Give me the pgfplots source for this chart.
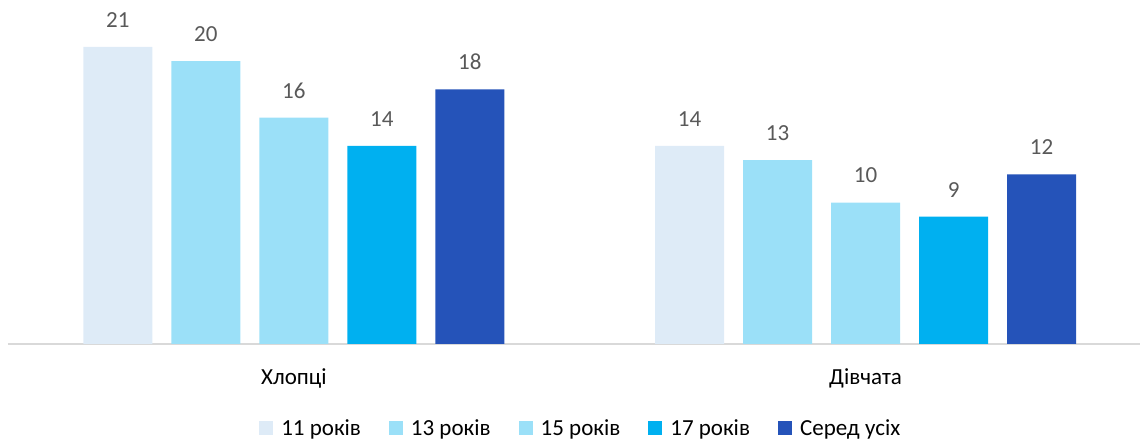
\documentclass[border=0pt]{standalone}
\usepackage{pgfplots}
\pgfplotsset{compat=1.18}
\usepackage{fontspec}
\setmainfont{Carlito}
\definecolor{c1}{HTML}{DEEBF7}
\definecolor{c2}{HTML}{9BE0F8}
\definecolor{c3}{HTML}{9BE0F8}
\definecolor{c4}{HTML}{00B0F0}
\definecolor{c5}{HTML}{2553B9}
\definecolor{axisgray}{HTML}{D9D9D9}
\definecolor{labelgray}{HTML}{595959}
\begin{document}
\begin{tikzpicture}
\useasboundingbox (0,0) rectangle (1140pt,439pt);
\begin{axis}[
  at={(8pt,95pt)}, anchor=south west,
  width=1132pt, height=396pt, scale only axis,
  xmin=-0.5, xmax=1.48, ymin=0, ymax=28,
  ybar=19pt, bar width=69pt,
  axis x line*=bottom, axis y line=none,
  x axis line style={draw=axisgray, line width=1.5pt, -},
  xtick={0,1}, xticklabels={Хлопці, Дівчата},
  xtick style={draw=none}, major tick length=0pt,
  xticklabel style={font=\fontsize{23}{28}\selectfont, text=black, yshift=-21pt},
  /pgf/number format/assume math mode=true,
  nodes near coords,
  every node near coord/.append style={font=\fontsize{23}{28}\selectfont, text=labelgray, yshift=16pt},
  legend style={at={(0.506,-0.212)}, anchor=center, draw=none, legend columns=5,
    font=\fontsize{23}{28}\selectfont,
    /tikz/every odd column/.append style={column sep=6pt},
    /tikz/every even column/.append style={column sep=26pt}},
  legend image code/.code={\fill[#1] (0pt,-7pt) rectangle (14pt,7pt);},
]
\addplot[fill=c1, draw=none] coordinates {(0,21) (1,14)};
\addplot[fill=c2, draw=none] coordinates {(0,20) (1,13)};
\addplot[fill=c3, draw=none] coordinates {(0,16) (1,10)};
\addplot[fill=c4, draw=none] coordinates {(0,14) (1,9)};
\addplot[fill=c5, draw=none] coordinates {(0,18) (1,12)};
\legend{11 років, 13 років, 15 років, 17 років, Серед усіх}
\end{axis}
\end{tikzpicture}
\end{document}
